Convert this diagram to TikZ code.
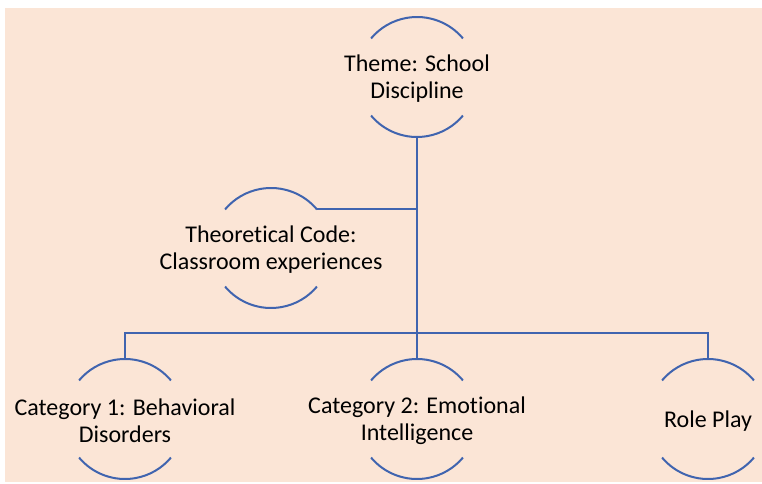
\documentclass[tikz,border=0pt]{standalone}
\usepackage{fontspec}
\setmainfont[Ligatures=NoCommon]{Carlito}
\definecolor{bgpeach}{HTML}{FBE5D6}
\definecolor{linkblue}{RGB}{64,100,175}
\begin{document}
\begin{tikzpicture}[x=1pt,y=1pt,
  ring/.style={circle,minimum size=120pt,inner sep=0pt,outer sep=0pt},
  lbl/.style={align=center,inner sep=0pt,yshift=-2pt,font=\fontsize{24}{27}\selectfont},
  link/.style={draw=linkblue,line width=2pt}]
\useasboundingbox (0,0) rectangle (762,483);
\fill[bgpeach] (5,1) rectangle (762,475);
% ring shapes
\node[ring] (t) at (417,406) {};
\node[ring] (tc) at (271,235) {};
\node[ring] (c1) at (125,64) {};
\node[ring] (c2) at (417,64) {};
\node[ring] (rp) at (708,64) {};
% arcs
\foreach \n in {t,tc,c1,c2,rp}{
  \draw[link] (\n.40) arc[start angle=40,end angle=140,radius=60pt];
  \draw[link] (\n.220) arc[start angle=220,end angle=320,radius=60pt];
}
% labels
\node[lbl] (tl) at (t) {Theme: School\\Discipline};
\node[lbl] (tcl) at (tc) {Theoretical Code:\\Classroom experiences};
\node[lbl] (c1l) at (c1) {Category 1: Behavioral\\Disorders};
\node[lbl] (c2l) at (c2) {Category 2: Emotional\\Intelligence};
\node[lbl] (rpl) at (rp) {Role Play};
% connectors
\coordinate (bus) at (417,150);
\draw[link] (t.south) -- (c2.north);
\draw[link] (tc.40) -- (tc.40 -| t.south);
\draw[link] (c1.north) |- (bus) -| (rp.north);
\end{tikzpicture}
\end{document}
